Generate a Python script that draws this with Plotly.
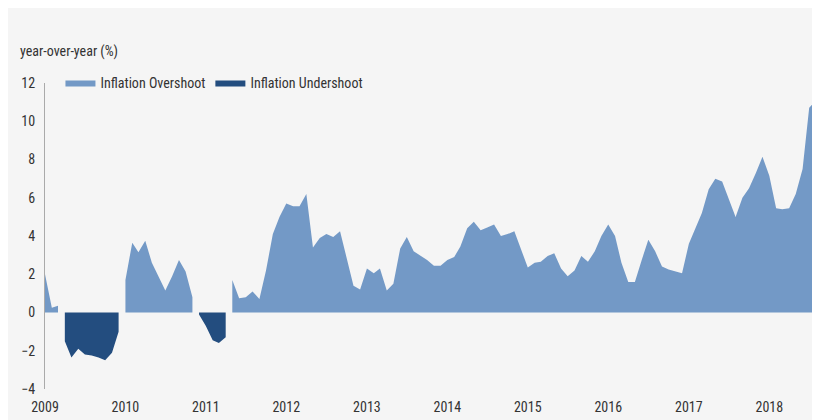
import plotly.graph_objects as go
import pandas as pd

start = "2009-01-01"
values = [2.0, 0.25, 0.35, -1.5, -2.35, -1.9, -2.2, -2.25, -2.35, -2.5, -2.1, -1.0,
          1.7, 3.65, 3.15, 3.75, 2.6, 1.9, 1.15, 1.9, 2.75, 2.15, 0.8, -0.1,
          -0.7, -1.45, -1.6, -1.3, 1.7, 0.75, 0.8, 1.1, 0.7, 2.2, 4.1, 5.0,
          5.7, 5.55, 5.55, 6.2, 3.4, 3.9, 4.1, 3.95, 4.25, 2.8, 1.4, 1.2,
          2.3, 2.05, 2.3, 1.15, 1.5, 3.35, 3.95, 3.2, 2.95, 2.75, 2.45, 2.45,
          2.75, 2.9, 3.45, 4.4, 4.75, 4.3, 4.45, 4.6, 4.0, 4.1, 4.25, 3.35,
          2.35, 2.6, 2.65, 2.95, 3.1, 2.3, 1.9, 2.2, 2.95, 2.65, 3.2, 4.0,
          4.6, 4.0, 2.6, 1.6, 1.6, 2.75, 3.8, 3.2, 2.4, 2.25, 2.15, 2.05,
          3.6, 4.4, 5.2, 6.45, 7.0, 6.85, 5.9, 5.0, 6.0, 6.5, 7.3, 8.15,
          7.15, 5.45, 5.4, 5.45, 6.2, 7.5, 10.7, 11.1]
dates = pd.date_range(start, periods=len(values), freq="MS")
years = [str(y) for y in range(2009, 2019)]
COL_OVER, COL_UNDER = "#7399c6", "#234d7f"

# split into contiguous same-sign runs
runs = []
cur = [0]
for i in range(1, len(values)):
    if (values[i] >= 0) == (values[cur[-1]] >= 0):
        cur.append(i)
    else:
        runs.append(cur)
        cur = [i]
runs.append(cur)

fig = go.Figure()
shown = set()
for r in runs:
    pos = values[r[0]] >= 0
    name = "Inflation Overshoot" if pos else "Inflation Undershoot"
    col = COL_OVER if pos else COL_UNDER
    xs = [dates[i] for i in r]
    ys = [values[i] for i in r]
    fig.add_trace(go.Scatter(x=xs, y=ys, name=name, mode="lines", fill="tozeroy",
                             fillcolor=col, line=dict(width=0, color=col),
                             legendgroup=name, showlegend=name not in shown))
    shown.add(name)

font = "Roboto Condensed, Roboto, sans-serif"
fig.update_layout(
    width=820, height=420, margin=dict(l=37, r=10, t=75, b=39),
    paper_bgcolor="#f5f5f5", plot_bgcolor="#f5f5f5",
    font=dict(family=font, size=14, color="#333"),
    showlegend=True,
    legend=dict(orientation="h", x=0.02, y=1.0, xanchor="left", yanchor="middle",
                bgcolor="rgba(0,0,0,0)", font=dict(size=14, color="#333"),
                traceorder="normal", itemwidth=30),
    xaxis=dict(range=[pd.Timestamp("2009-01-01"), pd.Timestamp("2018-08-10")],
               tickvals=[pd.Timestamp(f"{y}-01-01") for y in years], ticktext=years,
               showgrid=False, zeroline=False, showline=False, ticks="",
               ticklabelstandoff=8),
    yaxis=dict(range=[-4, 12], tickvals=list(range(-4, 13, 2)), showgrid=False,
               zeroline=False, showline=True, linecolor="#aaa", linewidth=1, ticks="",
               ticklabelstandoff=6),
    annotations=[dict(text="year-over-year (%)", xref="paper", yref="paper", x=-0.035, y=1.07,
                      xanchor="left", yanchor="bottom", showarrow=False, font=dict(size=14, color="#333"))],
)
fig.write_html("out.html")
